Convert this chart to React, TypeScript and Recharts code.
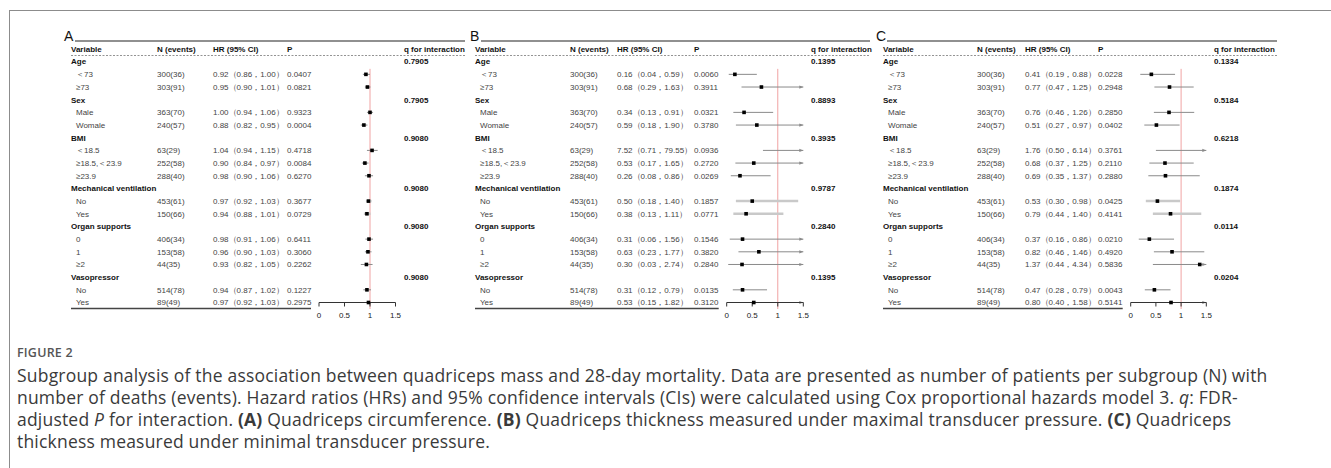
import React from "react";
import { ComposedChart, ReferenceLine, Scatter, XAxis, YAxis } from "recharts";

// rows shared by the three panels
const rowLabels = [
  "Age", "＜73", "≥73",
  "Sex", "Male", "Womale",
  "BMI", "＜18.5", "≥18.5,＜23.9", "≥23.9",
  "Mechanical ventilation", "No", "Yes",
  "Organ supports", "0", "1", "≥2",
  "Vasopressor", "No", "Yes",
];
const groupRows = [0, 3, 6, 10, 13, 17];
const nEvents = [
  "", "300(36)", "303(91)",
  "", "363(70)", "240(57)",
  "", "63(29)", "252(58)", "288(40)",
  "", "453(61)", "150(66)",
  "", "406(34)", "153(58)", "44(35)",
  "", "514(78)", "89(49)",
];

// A: quadriceps circumference
const hrA = [null, 0.92, 0.95, null, 1.0, 0.88, null, 1.04, 0.9, 0.98, null, 0.97, 0.94, null, 0.98, 0.96, 0.93, null, 0.94, 0.97];
const loA = [null, 0.86, 0.9, null, 0.94, 0.82, null, 0.94, 0.84, 0.9, null, 0.92, 0.88, null, 0.91, 0.9, 0.82, null, 0.87, 0.92];
const hiA = [null, 1.0, 1.01, null, 1.06, 0.95, null, 1.15, 0.97, 1.06, null, 1.03, 1.01, null, 1.06, 1.03, 1.05, null, 1.02, 1.03];
const pA = [null, "0.0407", "0.0821", null, "0.9323", "0.0004", null, "0.4718", "0.0084", "0.6270", null, "0.3677", "0.0729", null, "0.6411", "0.3060", "0.2262", null, "0.1227", "0.2975"];
const qA = ["0.7905", "0.7905", "0.9080", "0.9080", "0.9080", "0.9080"];

// B: thickness, maximal pressure
const hrB = [null, 0.16, 0.68, null, 0.34, 0.59, null, 7.52, 0.53, 0.26, null, 0.5, 0.38, null, 0.31, 0.63, 0.3, null, 0.31, 0.53];
const loB = [null, 0.04, 0.29, null, 0.13, 0.18, null, 0.71, 0.17, 0.08, null, 0.18, 0.13, null, 0.06, 0.23, 0.03, null, 0.12, 0.15];
const hiB = [null, 0.59, 1.63, null, 0.91, 1.9, null, 79.55, 1.65, 0.86, null, 1.4, 1.11, null, 1.56, 1.77, 2.74, null, 0.79, 1.82];
const pB = [null, "0.0060", "0.3911", null, "0.0321", "0.3780", null, "0.0936", "0.2720", "0.0269", null, "0.1857", "0.0771", null, "0.1546", "0.3820", "0.2840", null, "0.0135", "0.3120"];
const qB = ["0.1395", "0.8893", "0.3935", "0.9787", "0.2840", "0.1395"];

// C: thickness, minimal pressure
const hrC = [null, 0.41, 0.77, null, 0.76, 0.51, null, 1.76, 0.68, 0.69, null, 0.53, 0.79, null, 0.37, 0.82, 1.37, null, 0.47, 0.8];
const loC = [null, 0.19, 0.47, null, 0.46, 0.27, null, 0.5, 0.37, 0.35, null, 0.3, 0.44, null, 0.16, 0.46, 0.44, null, 0.28, 0.4];
const hiC = [null, 0.88, 1.25, null, 1.26, 0.97, null, 6.14, 1.25, 1.37, null, 0.98, 1.4, null, 0.86, 1.46, 4.34, null, 0.79, 1.58];
const pC = [null, "0.0228", "0.2948", null, "0.2850", "0.0402", null, "0.3761", "0.2110", "0.2880", null, "0.0425", "0.4141", null, "0.0210", "0.4920", "0.5836", null, "0.0043", "0.5141"];
const qC = ["0.1334", "0.5184", "0.6218", "0.1874", "0.0114", "0.0204"];

const headers = ["Variable", "N (events)", "HR (95% CI)", "P", "q for interaction"];
const xTicks = [0, 0.5, 1, 1.5];
const X_MAX = 1.5;

const FONT = '"Liberation Sans", Arial, sans-serif';
const W = 1331;
const H = 330;

type Panel = {
  letter: string;
  hr: (number | null)[];
  lo: (number | null)[];
  hi: (number | null)[];
  p: (string | null)[];
  q: string[];
  letterX: number;
  varX: number;
  nX: number;
  hrX: number;
  pX: number;
  qX: number;
  ax0: number;
  ax1: number;
  lineEnd: number;
};

const panels: Panel[] = [
  { letter: "A", hr: hrA, lo: loA, hi: hiA, p: pA, q: qA, letterX: 64, varX: 71, nX: 157, hrX: 213, pX: 287, qX: 404, ax0: 319, ax1: 395.5, lineEnd: 465 },
  { letter: "B", hr: hrB, lo: loB, hi: hiB, p: pB, q: qB, letterX: 470, varX: 475, nX: 570, hrX: 617, pX: 694, qX: 811, ax0: 726.7, ax1: 803.3, lineEnd: 870 },
  { letter: "C", hr: hrC, lo: loC, hi: hiC, p: pC, q: qC, letterX: 876, varX: 883, nX: 977, hrX: 1025, pX: 1098, qX: 1214, ax0: 1130.7, ax1: 1206.3, lineEnd: 1277 },
];

const f2 = (v: number) => v.toFixed(2);

function TableTick(props: any) {
  const { y, payload, pn, lastKey } = props;
  const key: string = payload?.value;
  const mid = { dy: "0.35em", fontFamily: FONT, fontSize: 8 } as const;
  if (key === "hdr") {
    const cols = [pn.varX, pn.nX, pn.hrX, pn.pX, pn.qX];
    return (
      <g>
        <text x={pn.letterX} y={y - 8} fontFamily={FONT} fontSize={14} fill="#111">
          {pn.letter}
        </text>
        <line x1={pn.letterX + 11} x2={pn.lineEnd} y1={y - 8} y2={y - 8} stroke="#222" strokeWidth={1.2} />
        {headers.map((h, i) => (
          <text key={h} x={cols[i]} y={y} {...mid} fontWeight="bold" fill="#111">
            {h}
          </text>
        ))}
        <line x1={pn.varX} x2={pn.lineEnd} y1={y + 6.5} y2={y + 6.5} stroke="#777" strokeWidth={0.8} strokeDasharray="2 1.5" />
      </g>
    );
  }
  const i = Number(key.slice(1));
  const gi = groupRows.indexOf(i);
  const isGroup = gi >= 0;
  const hr = pn.hr[i];
  return (
    <g>
      {isGroup ? (
        <>
          <text x={pn.varX} y={y} {...mid} fontWeight="bold" fill="#111">
            {rowLabels[i]}
          </text>
          <text x={pn.qX} y={y} {...mid} fontWeight="bold" fill="#111">
            {pn.q[gi]}
          </text>
        </>
      ) : (
        <>
          <text x={pn.varX + 5} y={y} {...mid} fill="#444">
            {rowLabels[i]}
          </text>
          <text x={pn.nX} y={y} {...mid} fill="#444">
            {nEvents[i]}
          </text>
          <text x={pn.hrX} y={y} {...mid} fill="#444">
            {hr != null ? `${f2(hr)}（${f2(pn.lo[i])}，${f2(pn.hi[i])}）` : ""}
          </text>
          <text x={pn.pX} y={y} {...mid} fill="#444">
            {pn.p[i]}
          </text>
        </>
      )}
      {key === lastKey ? (
        <line x1={pn.varX} x2={pn.ax0 - 8} y1={y + 6} y2={y + 6} stroke="#444" strokeWidth={1.5} />
      ) : null}
    </g>
  );
}

function CiShape(props: any) {
  const { x1, y1, x2, y2, clipped, thick } = props;
  if (![x1, y1, x2, y2].every((v) => Number.isFinite(v))) return <g />;
  return (
    <g>
      <line
        x1={x1}
        y1={y1}
        x2={x2}
        y2={y2}
        stroke={thick ? "#c9c9c9" : "#8a8a8a"}
        strokeWidth={thick ? 2.5 : 1}
      />
      {clipped ? <path d={`M${x2 - 4},${y2 - 1.6}L${x2},${y2}L${x2 - 4},${y2 + 1.6}Z`} fill="#8a8a8a" /> : null}
    </g>
  );
}

function RefShape(props: any) {
  const { x1, y1, x2, y2 } = props;
  if (![x1, y1, x2, y2].every((v) => Number.isFinite(v))) return <g />;
  return <line x1={x1} x2={x2} y1={y1 - 5.5} y2={y2 + 6.5} stroke="#f0a3a3" strokeWidth={1} />;
}

function Square(props: any) {
  const { cx, cy } = props;
  if (!Number.isFinite(cx) || !Number.isFinite(cy)) return <g />;
  return <rect x={cx - 1.8} y={cy - 1.8} width={3.6} height={3.6} fill="#000" />;
}

function ForestPanel({ pn }: { pn: Panel }) {
  const keys = ["hdr", ...rowLabels.map((_, i) => `r${i}`)];
  const data = keys.map((k) => {
    if (k === "hdr") return { key: k, hrShown: null };
    const i = Number(k.slice(1));
    const hr = pn.hr[i];
    return { key: k, hrShown: hr != null && hr <= X_MAX ? hr : null };
  });
  const lastKey = keys[keys.length - 1];
  return (
    <div style={{ position: "absolute", left: 0, top: 0 }}>
      <ComposedChart
        layout="vertical"
        width={W}
        height={H}
        data={data}
        margin={{ top: 49, bottom: 0, left: pn.ax0 - 1, right: W - pn.ax1 }}
      >
        <XAxis
          type="number"
          domain={[0, X_MAX]}
          ticks={xTicks}
          allowDataOverflow
          height={27.5}
          tickSize={4}
          tickMargin={6}
          stroke="#333"
          tick={{ fontSize: 8, fontFamily: FONT, fill: "#222" }}
          tickFormatter={(v) => String(v)}
        />
        <YAxis
          type="category"
          dataKey="key"
          width={1}
          interval={0}
          axisLine={false}
          tickLine={false}
          tick={(p: any) => <TableTick {...p} pn={pn} lastKey={lastKey} />}
        />
        <ReferenceLine
          segment={[
            { x: 1, y: "r1" },
            { x: 1, y: lastKey },
          ]}
          ifOverflow="visible"
          shape={(p: any) => <RefShape {...p} />}
        />
        {rowLabels.map((_, i) => {
          const lo = pn.lo[i];
          const hi = pn.hi[i];
          if (lo == null || hi == null) return null;
          const clipped = hi > X_MAX;
          const thick = i === 11 || i === 12;
          return (
            <ReferenceLine
              key={`ci${i}`}
              segment={[
                { x: lo, y: `r${i}` },
                { x: Math.min(hi, X_MAX), y: `r${i}` },
              ]}
              ifOverflow="visible"
              shape={(p: any) => <CiShape {...p} clipped={clipped} thick={thick} />}
            />
          );
        })}
        <Scatter dataKey="hrShown" isAnimationActive={false} shape={(p: any) => <Square {...p} />} />
      </ComposedChart>
    </div>
  );
}

export default function App() {
  return (
    <div
      style={{
        position: "absolute",
        left: 0,
        top: 0,
        width: W,
        height: 468,
        background: "#fff",
        overflow: "hidden",
      }}
    >
      <div style={{ position: "absolute", left: 9, top: 10, width: W - 9, height: 0, borderTop: "1.5px solid #8c8c8c" }} />
      <div style={{ position: "absolute", left: 9, top: 10, width: 0, height: 458, borderLeft: "1.5px solid #8c8c8c" }} />
      {panels.map((pn) => (
        <ForestPanel key={pn.letter} pn={pn} />
      ))}
      <div
        style={{
          position: "absolute",
          left: 17,
          top: 344,
          fontFamily: '"Open Sans", sans-serif',
          fontSize: 12.5,
          fontWeight: 600,
          color: "#555",
          letterSpacing: 0.2,
        }}
      >
        FIGURE 2
      </div>
      <div
        style={{
          position: "absolute",
          left: 17,
          top: 364,
          fontFamily: '"Open Sans", sans-serif',
          fontSize: 17.5,
          lineHeight: "22px",
          letterSpacing: 0.2,
          color: "#3a3a3a",
          whiteSpace: "nowrap",
        }}
      >
        Subgroup analysis of the association between quadriceps mass and 28-day mortality. Data are presented as number of patients per subgroup (N) with
        <br />
        number of deaths (events). Hazard ratios (HRs) and 95% confidence intervals (CIs) were calculated using Cox proportional hazards model 3. <i>q</i>: FDR-
        <br />
        adjusted <i>P</i> for interaction. <b>(A)</b> Quadriceps circumference. <b>(B)</b> Quadriceps thickness measured under maximal transducer pressure. <b>(C)</b> Quadriceps
        <br />
        thickness measured under minimal transducer pressure.
      </div>
    </div>
  );
}
